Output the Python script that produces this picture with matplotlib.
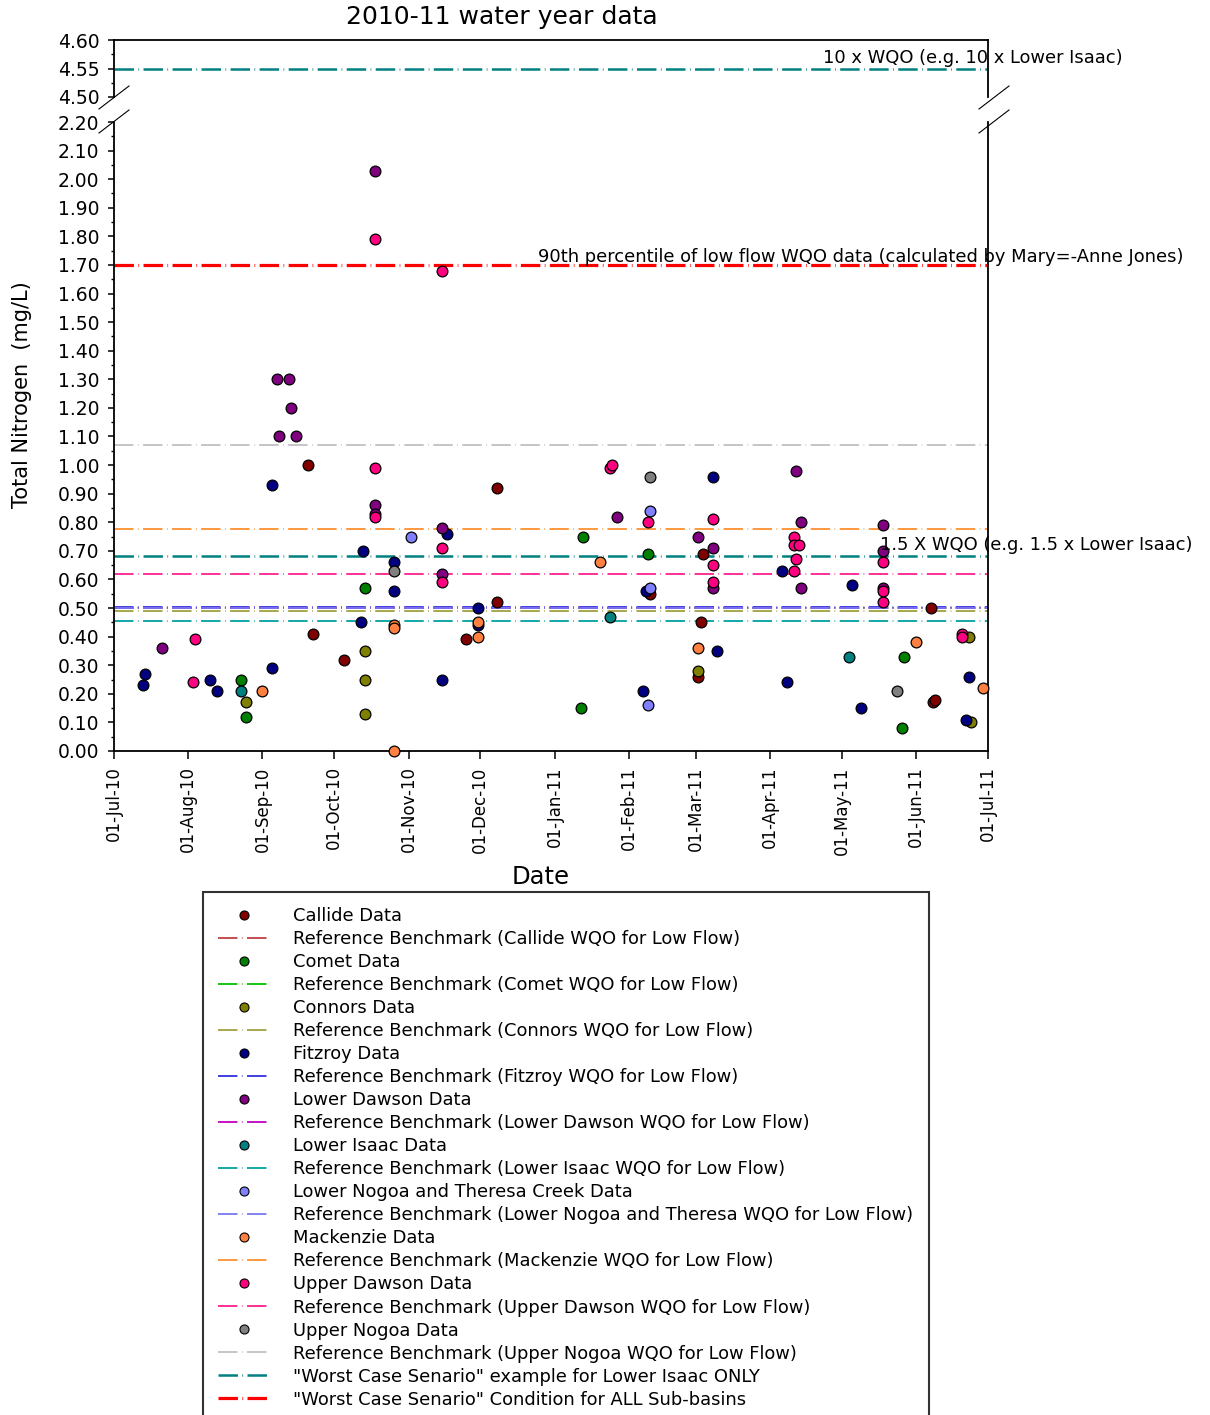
import numpy as np
import matplotlib.pyplot as plt
import matplotlib.dates as mdates
from matplotlib.lines import Line2D
from matplotlib.ticker import MultipleLocator, FormatStrFormatter
import pandas as pd

plt.rcParams['font.family'] = ['DejaVu Sans']
plt.rcParams['lines.scale_dashes'] = False

# sample dates / total nitrogen (mg/L) per sub-basin, 2010-11 water year
callide_dates = ['2010-09-20', '2010-09-22', '2010-10-05', '2010-11-25', '2010-12-08', '2010-12-08',
                 '2011-02-10', '2011-03-04', '2011-03-03', '2011-03-02', '2011-06-07', '2011-06-08',
                 '2011-06-09']
callide_tn = [1.00, 0.41, 0.32, 0.39, 0.92, 0.52, 0.55, 0.69, 0.45, 0.26, 0.50, 0.17, 0.18]

comet_dates = ['2010-08-23', '2010-08-25', '2010-10-14', '2011-01-13', '2011-01-12', '2011-02-09',
               '2011-05-27', '2011-05-26']
comet_tn = [0.25, 0.12, 0.57, 0.75, 0.15, 0.69, 0.33, 0.08]

connors_dates = ['2010-08-25', '2010-10-14', '2010-10-14', '2010-10-14', '2011-03-02', '2011-06-23',
                 '2011-06-24']
connors_tn = [0.17, 0.35, 0.25, 0.13, 0.28, 0.40, 0.10]

fitzroy_dates = ['2010-07-13', '2010-07-14', '2010-08-10', '2010-08-13', '2010-09-05', '2010-09-05',
                 '2010-10-13', '2010-10-12', '2010-10-26', '2010-10-26', '2010-11-17', '2010-11-15',
                 '2010-11-30', '2010-11-30', '2011-02-07', '2011-02-08', '2011-03-08', '2011-03-10',
                 '2011-04-06', '2011-04-08', '2011-05-05', '2011-05-09', '2011-06-23', '2011-06-22']
fitzroy_tn = [0.23, 0.27, 0.25, 0.21, 0.93, 0.29, 0.70, 0.45, 0.66, 0.56, 0.76, 0.25,
              0.50, 0.44, 0.21, 0.56, 0.96, 0.35, 0.63, 0.24, 0.58, 0.15, 0.26, 0.11]

ldawson_dates = ['2010-07-21', '2010-09-07', '2010-09-08', '2010-09-12', '2010-09-13', '2010-09-15',
                 '2010-10-18', '2010-10-18', '2010-10-18', '2010-11-15', '2010-11-15', '2011-01-27',
                 '2011-03-02', '2011-03-08', '2011-03-08', '2011-04-12', '2011-04-14', '2011-04-14',
                 '2011-05-18', '2011-05-18', '2011-05-18']
ldawson_tn = [0.36, 1.30, 1.10, 1.30, 1.20, 1.10, 2.03, 0.86, 0.83, 0.78, 0.62, 0.82,
              0.75, 0.71, 0.57, 0.98, 0.80, 0.57, 0.79, 0.70, 0.57]

lisaac_dates = ['2010-08-23', '2011-01-24', '2011-05-04']
lisaac_tn = [0.21, 0.47, 0.33]

lnogoa_dates = ['2010-11-02', '2011-02-10', '2011-02-10', '2011-02-09']
lnogoa_tn = [0.75, 0.84, 0.57, 0.16]

mackenzie_dates = ['2010-09-01', '2010-10-26', '2010-10-26', '2010-10-26', '2010-11-30', '2010-11-30',
                   '2011-01-20', '2011-03-02', '2011-06-01', '2011-06-29']
mackenzie_tn = [0.21, 0.44, 0.43, 0.00, 0.45, 0.40, 0.66, 0.36, 0.38, 0.22]

udawson_dates = ['2010-08-04', '2010-08-03', '2010-10-18', '2010-10-18', '2010-10-18', '2010-11-15',
                 '2010-11-15', '2010-11-15', '2011-01-24', '2011-01-25', '2011-02-09', '2011-03-08',
                 '2011-03-08', '2011-03-08', '2011-04-11', '2011-04-11', '2011-04-11', '2011-04-13',
                 '2011-04-12', '2011-05-18', '2011-05-18', '2011-05-18', '2011-06-20', '2011-06-20']
udawson_tn = [0.39, 0.24, 1.79, 0.99, 0.82, 1.68, 0.71, 0.59, 0.99, 1.00, 0.80, 0.81,
              0.65, 0.59, 0.75, 0.72, 0.63, 0.72, 0.67, 0.66, 0.56, 0.52, 0.41, 0.40]

unogoa_dates = ['2010-10-26', '2011-02-10', '2011-05-24']
unogoa_tn = [0.63, 0.96, 0.21]

site_labels = ['Callide Data', 'Comet Data', 'Connors Data', 'Fitzroy Data', 'Lower Dawson Data',
               'Lower Isaac Data', 'Lower Nogoa and Theresa Creek Data', 'Mackenzie Data',
               'Upper Dawson Data', 'Upper Nogoa Data']
bench_names = ['Callide', 'Comet', 'Connors', 'Fitzroy', 'Lower Dawson', 'Lower Isaac',
               'Lower Nogoa and Theresa', 'Mackenzie', 'Upper Dawson', 'Upper Nogoa']
# low flow WQO benchmarks (mg/L)
bench_values = [0.50, 0.50, 0.49, 0.502, 0.50, 0.455, 0.50, 0.775, 0.62, 1.07]
worst_isaac = [0.6825, 4.55]   # 1.5 x and 10 x Lower Isaac WQO
worst_all = 1.70

site_dates = [callide_dates, comet_dates, connors_dates, fitzroy_dates, ldawson_dates,
              lisaac_dates, lnogoa_dates, mackenzie_dates, udawson_dates, unogoa_dates]
site_tn = [callide_tn, comet_tn, connors_tn, fitzroy_tn, ldawson_tn,
           lisaac_tn, lnogoa_tn, mackenzie_tn, udawson_tn, unogoa_tn]

point_colors = ['#800000', '#008000', '#808000', '#000080', '#800080',
                '#008080', '#8080FF', '#FF8040', '#FF0080', '#808080']
line_colors = ['#C04040', '#00C000', '#A0A040', '#3030E0', '#C000C0',
               '#00A0A0', '#7878F0', '#FF9030', '#FF2090', '#C0C0C0']

dash = (0, (14, 3.2, 0.5, 3.2))

W, H = 1210, 1415
fig = plt.figure(figsize=(W / 100, H / 100), dpi=100)

def fx(px):
    return px / W

def fy(py):
    return 1 - py / H

ax = fig.add_axes([fx(114), fy(751), fx(988) - fx(114), fy(122) - fy(751)])
ax_top = fig.add_axes([fx(114), fy(97), fx(988) - fx(114), fy(40) - fy(97)])

x0, x1 = pd.Timestamp('2010-07-01'), pd.Timestamp('2011-07-01')

# benchmark lines
for val, col in zip(bench_values, line_colors):
    ax.axhline(val, color=col, lw=1.3, ls=dash, zorder=2)
ax.axhline(worst_isaac[0], color='#008080', lw=1.8, ls=dash, zorder=2)
ax.axhline(worst_all, color='#FF0000', lw=2.3, ls=dash, zorder=2)
ax_top.axhline(worst_isaac[1], color='#008080', lw=1.8, ls=dash, zorder=2)

# data points
for dts, vals, col in zip(site_dates, site_tn, point_colors):
    ax.scatter(pd.to_datetime(dts), vals, s=60, c=col, edgecolors='black',
               linewidths=0.9, zorder=3, clip_on=False)

ax.set_xlim(x0, x1)
ax.set_ylim(0, 2.2)
ax_top.set_xlim(x0, x1)
ax_top.set_ylim(4.50, 4.60)

for a in (ax, ax_top):
    for s in a.spines.values():
        s.set_linewidth(1.3)
ax.spines['top'].set_visible(False)
ax_top.spines['bottom'].set_visible(False)

ax.xaxis.set_major_locator(mdates.MonthLocator())
ax.xaxis.set_major_formatter(mdates.DateFormatter('%d-%b-%y'))
ax.tick_params(axis='x', direction='out', length=6, width=1.1, labelsize=12, pad=5, labelrotation=90)
ax.yaxis.set_major_locator(MultipleLocator(0.1))
ax.yaxis.set_minor_locator(MultipleLocator(0.05))
ax.yaxis.set_major_formatter(FormatStrFormatter('%.2f'))
ax.tick_params(axis='y', which='major', direction='out', length=4.5, width=1.1, labelsize=13.5, pad=6)
ax.tick_params(axis='y', which='minor', direction='out', length=2.5, width=1.0)

ax_top.set_xticks([])
ax_top.set_yticks([4.50, 4.55, 4.60])
ax_top.yaxis.set_minor_locator(MultipleLocator(0.025))
ax_top.yaxis.set_major_formatter(FormatStrFormatter('%.2f'))
ax_top.tick_params(axis='y', which='major', direction='out', length=4.5, width=1.1, labelsize=13.5, pad=6)
ax_top.tick_params(axis='y', which='minor', direction='out', length=2.5, width=1.0)

# axis break marks
for xc in (114, 994):
    for ya, yb in ((109, 86), (133, 110)):
        fig.add_artist(Line2D([fx(xc - 15), fx(xc + 15)], [fy(ya), fy(yb)],
                              transform=fig.transFigure, color='black', lw=0.8))

# annotations
ax_top.text(pd.Timestamp('2011-04-23'), 4.569, '10 x WQO (e.g. 10 x Lower Isaac)',
            fontsize=12.9, va='center', ha='left', clip_on=False)
ax.text(pd.Timestamp('2010-12-25'), 1.727,
        '90th percentile of low flow WQO data (calculated by Mary=-Anne Jones)',
        fontsize=12.9, va='center', ha='left', clip_on=False)
ax.text(pd.Timestamp('2011-05-17'), 0.72, '1.5 X WQO (e.g. 1.5 x Lower Isaac)',
        fontsize=12.9, va='center', ha='left', clip_on=False)

fig.text(fx(502), fy(17), '2010-11 water year data', fontsize=18, ha='center', va='center')
fig.text(fx(22), fy(395), 'Total Nitrogen  (mg/L)', fontsize=15, rotation=90, ha='center', va='center')
fig.text(fx(541), fy(877), 'Date', fontsize=17.5, ha='center', va='center')

# legend
handles, labels = [], []
for i in range(len(site_labels)):
    handles.append(Line2D([], [], ls='none', marker='o', ms=6.5, mfc=point_colors[i],
                          mec='black', mew=0.8))
    labels.append(site_labels[i])
    handles.append(Line2D([], [], color=line_colors[i], lw=1.3, ls=dash))
    labels.append('Reference Benchmark (%s WQO for Low Flow)' % bench_names[i])
handles.append(Line2D([], [], color='#008080', lw=1.8, ls=dash))
labels.append('"Worst Case Senario" example for Lower Isaac ONLY')
handles.append(Line2D([], [], color='#FF0000', lw=2.3, ls=dash))
labels.append('"Worst Case Senario" Condition for ALL Sub-basins')

leg = fig.legend(handles, labels, loc='upper left', bbox_to_anchor=(fx(203), fy(892)),
                 frameon=True, fancybox=False, edgecolor='black', fontsize=12.9,
                 labelspacing=0.28, handlelength=2.9, handletextpad=1.3, borderpad=0.85,
                 borderaxespad=0)
leg.get_frame().set_linewidth(1.5)

fig.savefig('out.png', dpi=100)
